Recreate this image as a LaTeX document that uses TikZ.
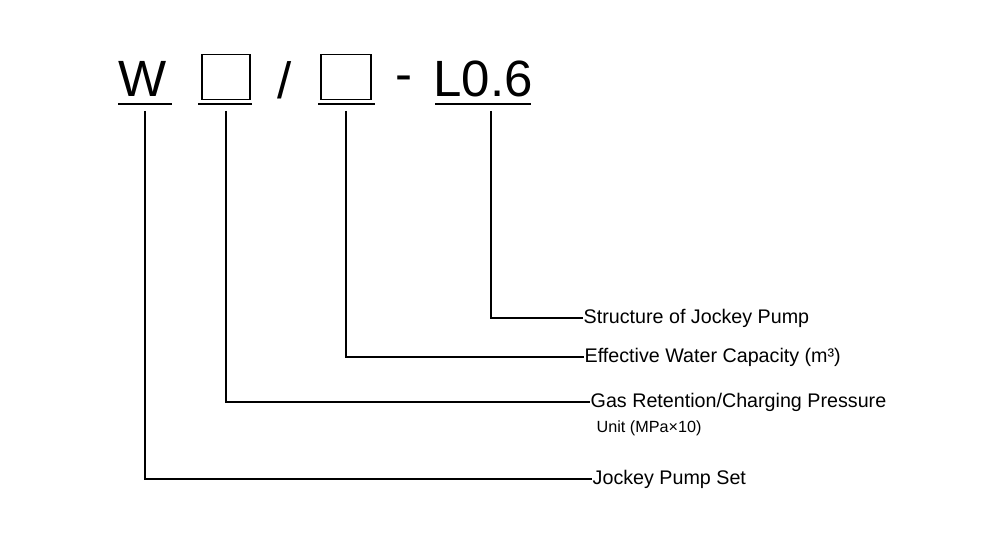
\documentclass[tikz,border=0pt]{standalone}
\usepackage{fontspec}
\setmainfont{Liberation Sans}
\usetikzlibrary{positioning}

\begin{document}
\begin{tikzpicture}[
  x=0.01cm, y=-0.01cm,
  big/.style={font=\fontsize{14.5}{17}\selectfont, inner sep=0pt, anchor=base},
  lbl/.style={font=\fontsize{5.6}{7}\selectfont, anchor=west, inner sep=0pt},
  slot/.style={draw, line width=0.5pt, minimum height=0.45cm, inner sep=0pt},
  rule/.style={line width=0.6pt},
  lead/.style={line width=0.55pt}
]
\useasboundingbox (0,0) rectangle (1000,537);
% code symbols
\node[big] (w) at (143,97) {W};
\node[slot, minimum width=0.48cm] (boxa) at (226,77) {};
\node[big] (slash) at (285,99) {/};
\node[slot, minimum width=0.50cm] (boxb) at (346,77) {};
\node[big] (dash) at (404,92) {-};
\node[big] (l06) at (483,97) {L0.6};
% underlines
\draw[rule] (118,104) -- (172,104);
\draw[rule] (198,104) -- (252,104);
\draw[rule] (318,104) -- (375,104);
\draw[rule] (435,104) -- (531,104);
% labels
\node[lbl] (struct) at (583,318) {Structure of Jockey Pump};
\node[lbl] (cap) at (584,357) {Effective Water Capacity (m³)};
\node[lbl] (gas) at (590,402) {Gas Retention/Charging Pressure};
\node[lbl, font=\fontsize{4.6}{5}\selectfont] (unit) at (596,428) {Unit (MPa×10)};
\node[lbl] (set) at (592,479) {Jockey Pump Set};
% leaders
\draw[lead] (491,111) |- (struct.west);
\draw[lead] (346,111) |- (cap.west);
\draw[lead] (226,111) |- (gas.west);
\draw[lead] (145,111) |- (set.west);
\end{tikzpicture}
\end{document}
